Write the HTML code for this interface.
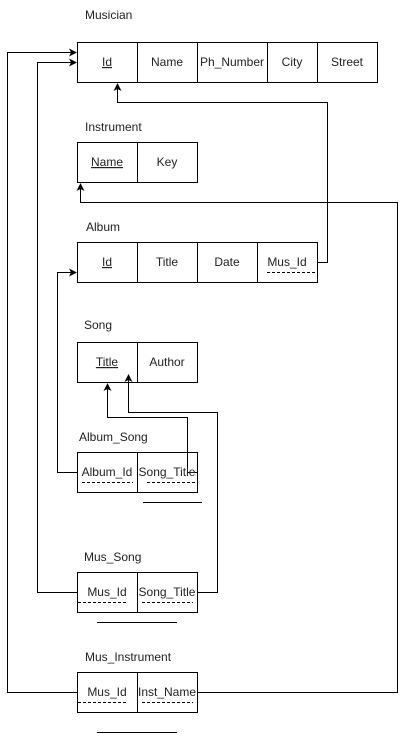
<!DOCTYPE html>
<html><head><style>
body{margin:0;background:#fff;}
svg text{font-family:"Liberation Sans",Arial,sans-serif;font-size:12px;fill:#222;}
</style></head><body>
<svg width="406" height="734" xmlns="http://www.w3.org/2000/svg">
<defs><marker id="a" markerWidth="8" markerHeight="8" refX="7" refY="4" orient="auto" markerUnits="userSpaceOnUse"><path d="M0,0 L8,4 L0,8 L2,4 z" fill="#000"/></marker></defs>
<g fill="#fff" stroke="#000" stroke-width="1">
<rect x="77.5" y="42.5" width="300" height="40"/>
<path d="M137.5 42.5v40M197.5 42.5v40M267.5 42.5v40M317.5 42.5v40"/>
<rect x="77.5" y="142.5" width="120" height="40"/><path d="M137.5 142.5v40"/>
<rect x="77.5" y="242.5" width="240" height="40"/><path d="M137.5 242.5v40M197.5 242.5v40M257.5 242.5v40"/>
<rect x="77.5" y="342.5" width="120" height="40"/><path d="M137.5 342.5v40"/>
<rect x="77.5" y="452.5" width="120" height="40"/><path d="M137.5 452.5v40"/>
<rect x="77.5" y="572.5" width="120" height="40"/><path d="M137.5 572.5v40"/>
<rect x="77.5" y="672.5" width="120" height="40"/><path d="M137.5 672.5v40"/>
</g>
<g fill="none" stroke="#000" stroke-width="1">
<path d="M77 692.5H7.5V52.5H76" marker-end="url(#a)"/>
<path d="M77 592.5H37.5V62.5H76" marker-end="url(#a)"/>
<path d="M77 472.5H57.5V272.5H76" marker-end="url(#a)"/>
<path d="M318 262.5H327.5V102.5H117.5V84" marker-end="url(#a)"/>
<path d="M198 692.5H397.5V202.5H80.5V184" marker-end="url(#a)"/>
<path d="M197 472.5H187.5V417.5H107.5V384" marker-end="url(#a)"/>
<path d="M198 592.5H217.5V412.5H128.5V375" marker-end="url(#a)"/>
<path d="M143 502.5H202M97 622.5H177M97 732.5H177"/>
<g stroke-dasharray="3,2"><path d="M267 272.5H317M82 482.5H133M147 482.5H197M78 602.5H128M142 602.5H193M78 702.5H128M142 702.5H193"/></g>
</g>
<text x="85" y="19">Musician</text>
<text x="85" y="131">Instrument</text>
<text x="86" y="231">Album</text>
<text x="84" y="329">Song</text>
<text x="79" y="441">Album_Song</text>
<text x="84" y="561">Mus_Song</text>
<text x="85" y="661">Mus_Instrument</text>
<g text-anchor="middle">
<text x="107" y="66" text-decoration="underline">Id</text><text x="167" y="66">Name</text><text x="232" y="66">Ph_Number</text><text x="292" y="66">City</text><text x="347" y="66">Street</text>
<text x="107" y="166" text-decoration="underline">Name</text><text x="167" y="166">Key</text>
<text x="107" y="266" text-decoration="underline">Id</text><text x="167" y="266">Title</text><text x="227" y="266">Date</text><text x="287" y="266">Mus_Id</text>
<text x="107" y="366" text-decoration="underline">Title</text><text x="167" y="366">Author</text>
<text x="107" y="476">Album_Id</text><text x="167" y="476">Song_Title</text>
<text x="107" y="596">Mus_Id</text><text x="167" y="596">Song_Title</text>
<text x="107" y="696">Mus_Id</text><text x="167" y="696">Inst_Name</text>
</g>
</svg>
</body></html>
